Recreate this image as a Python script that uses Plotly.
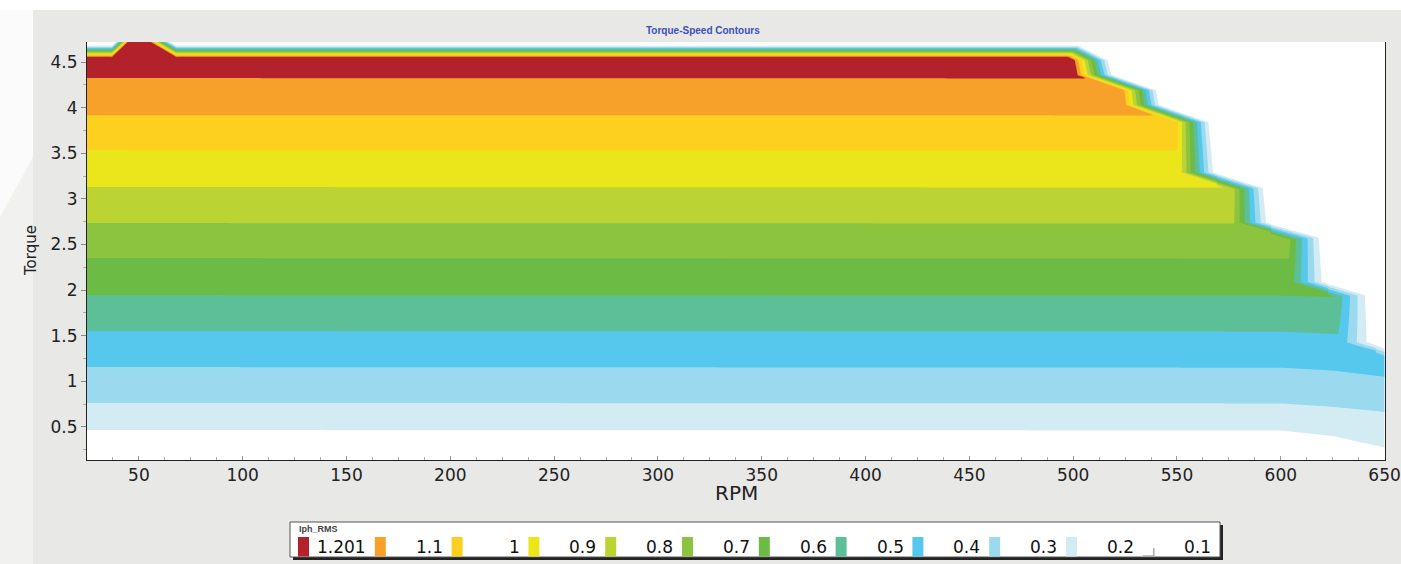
import numpy as np
import plotly.graph_objects as go

# ---------------- data ----------------
# Iph_RMS contour levels and the torque at which each level sits (read at several RPM positions)
iph_levels = [0.0, 0.1, 0.2, 0.3, 0.4, 0.5, 0.6, 0.7, 0.8, 0.9, 1.0, 1.1, 1.201]
band_rpm_nodes = [25, 600, 625, 650]
torque_at_level_rpm25 = [0.10, 0.467, 0.763, 1.157, 1.552, 1.946, 2.352, 2.735, 3.130, 3.535, 3.918, 4.325, 4.72]
torque_at_level_rpm600 = [0.10, 0.462, 0.758, 1.150, 1.545, 1.940, 2.345, 2.730, 3.125, 3.530, 3.915, 4.320, 4.72]
torque_at_level_rpm625 = [0.05, 0.400, 0.720, 1.118, 1.520, 1.925, 2.330, 2.725, 3.122, 3.527, 3.912, 4.320, 4.72]
torque_at_level_rpm650 = [0.00, 0.275, 0.665, 1.050, 1.480, 1.900, 2.320, 2.720, 3.120, 3.525, 3.910, 4.320, 4.72]

# outer torque-speed envelope (where Iph falls to zero)
env_rpm = [25, 37, 48.5, 49.5, 68, 503, 518, 520, 541.6, 543, 567, 569.5, 593.6, 595.5, 621, 623, 644, 646, 650, 675, 700]
env_torque = [4.69, 4.69, 4.93, 4.93, 4.69, 4.69, 4.52, 4.36, 4.19, 4.03, 3.84, 3.29, 3.12, 2.74, 2.58, 2.09, 1.95, 1.43, 1.40, 1.25, 0.0]

x_ticks = [50, 100, 150, 200, 250, 300, 350, 400, 450, 500, 550, 600, 650]
y_ticks = [0.5, 1, 1.5, 2, 2.5, 3, 3.5, 4, 4.5]
legend_labels = ["1.201", "1.1", "1", "0.9", "0.8", "0.7", "0.6", "0.5", "0.4", "0.3", "0.2", "0.1"]

# band colours, lowest band (<0.1) to highest (>1.1)
band_colors = ["#ffffff", "#d3ecf4", "#9bd9ee", "#56c8ee", "#5cbf98", "#6cbb45",
               "#8cc43f", "#bcd433", "#ebe61c", "#fdd01f", "#f7a12a", "#b3222a"]

# ---------------- build the contour table ----------------
x = np.concatenate([np.arange(25, 100, 1.0), np.arange(100, 490, 5.0), np.arange(490, 650.01, 0.5)])
y = np.round(np.arange(0.10, 4.80, 0.01), 3)

LT = np.array([torque_at_level_rpm25, torque_at_level_rpm600, torque_at_level_rpm625, torque_at_level_rpm650])
V = np.zeros((len(y), len(x)))
for i, xv in enumerate(x):
    lt = np.array([np.interp(xv, band_rpm_nodes, LT[:, k]) for k in range(LT.shape[1])])
    V[:, i] = np.interp(y, lt, iph_levels)

er = np.array(env_rpm, dtype=float)
et = np.array(env_torque, dtype=float)
stair = er >= 503
sr, st = er[stair][::-1], et[stair][::-1]
rpm_edge = np.interp(y, st, sr)
T_edge = np.interp(x, er, et)
WX, WT = 18.0, 0.14
dx = rpm_edge[:, None] - x[None, :]
dT = T_edge[None, :] - y[:, None]
f = np.clip(np.minimum(dx / WX, dT / WT), 0, 1)
Z = np.round(V * f, 4).astype(np.float32)

n = len(band_colors)
nl = n - 1
cscale = []
for i, c in enumerate(band_colors):
    lo = 0.0 if i == 0 else (i - 0.5) / nl
    hi = 1.0 if i == n - 1 else (i + 0.5) / nl
    cscale.append([lo, c])
    cscale.append([hi, c])

fig = go.Figure()
fig.add_trace(go.Contour(
    x=x, y=y, z=Z,
    autocontour=False,
    contours=dict(start=0.1, end=1.1, size=0.1, coloring="fill", showlines=False),
    colorscale=cscale, showscale=False, line=dict(width=0),
    hoverinfo="skip",
))

# ---------------- layout ----------------
L, R, T, B = 87, 16, 42, 104
W, H = 1401, 564
PW, PH = W - L - R, H - T - B


def px(xp):
    return (xp - L) / PW


def py(yp):
    return (H - B - yp) / PH


shapes = []
annotations = []

# page decoration
shapes.append(dict(type="rect", xref="paper", yref="paper", x0=px(0), x1=px(W), y0=py(0), y1=py(10),
                   fillcolor="#ffffff", line=dict(width=0), layer="below"))
shapes.append(dict(type="rect", xref="paper", yref="paper", x0=px(0), x1=px(33), y0=py(10), y1=py(H),
                   fillcolor="#f1f1f0", line=dict(width=0), layer="below"))
shapes.append(dict(type="path", xref="paper", yref="paper",
                   path=f"M {px(0)} {py(10)} L {px(33)} {py(10)} L {px(33)} {py(157)} L {px(0)} {py(217)} Z",
                   fillcolor="#fbfbfb", line=dict(width=0), layer="below"))

# title
annotations.append(dict(text="<b>Torque-Speed Contours</b>", xref="paper", yref="paper",
                        x=px(703), y=py(31), xanchor="center", yanchor="middle", showarrow=False,
                        font=dict(family="Liberation Sans, Arial", size=10, color="#3d4fb8")))
# axis titles
annotations.append(dict(text="RPM", xref="paper", yref="paper", x=px(736), y=py(493),
                        xanchor="center", yanchor="middle", showarrow=False,
                        font=dict(family="DejaVu Sans", size=20, color="#222222")))
annotations.append(dict(text="Torque", xref="paper", yref="paper", x=px(31), y=py(251), textangle=-90,
                        xanchor="center", yanchor="middle", showarrow=False,
                        font=dict(family="DejaVu Sans", size=15, color="#222222")))

# legend box
shapes.append(dict(type="rect", xref="paper", yref="paper", x0=px(293), x1=px(1223), y0=py(525), y1=py(560),
                   fillcolor="#222222", line=dict(width=0)))
shapes.append(dict(type="rect", xref="paper", yref="paper", x0=px(290), x1=px(1220), y0=py(522), y1=py(557),
                   fillcolor="#ffffff", line=dict(color="#555555", width=1)))
annotations.append(dict(text="<b>Iph_RMS</b>", xref="paper", yref="paper", x=px(297), y=py(529),
                        xanchor="left", yanchor="middle", showarrow=False,
                        font=dict(family="Liberation Sans, Arial", size=9, color="#444444")))
legend_colors = band_colors[::-1]
for i, (lab, col) in enumerate(zip(legend_labels, legend_colors)):
    x0 = 298 + 76.8 * i
    if col.lower() == "#ffffff":
        shapes.append(dict(type="line", xref="paper", yref="paper", x0=px(x0), x1=px(x0 + 11),
                           y0=py(556), y1=py(556), line=dict(color="#aaaaaa", width=1.5)))
        shapes.append(dict(type="line", xref="paper", yref="paper", x0=px(x0 + 11), x1=px(x0 + 11),
                           y0=py(548), y1=py(556), line=dict(color="#aaaaaa", width=1.5)))
    else:
        shapes.append(dict(type="rect", xref="paper", yref="paper", x0=px(x0), x1=px(x0 + 11),
                           y0=py(537), y1=py(556.5), fillcolor=col, line=dict(width=0)))
    annotations.append(dict(text=lab, xref="paper", yref="paper", x=px(x0 + 70), y=py(547),
                            xanchor="right", yanchor="middle", showarrow=False,
                            font=dict(family="DejaVu Sans", size=17, color="#111111")))

fig.update_layout(
    width=W, height=H,
    margin=dict(l=L, r=R, t=T, b=B, pad=0, autoexpand=False),
    paper_bgcolor="#e8e8e6",
    plot_bgcolor="#ffffff",
    showlegend=False,
    shapes=shapes,
    annotations=annotations,
    xaxis=dict(range=[25, 650.2], tickvals=x_ticks, ticktext=[str(v) for v in x_ticks],
               ticks="inside", ticklen=4, tickcolor="#999999",
               minor=dict(dtick=12.5, tick0=0, ticks="inside", ticklen=3, tickcolor="#aaaaaa"),
               showline=True, linecolor="#222222", linewidth=1, mirror=False,
               showgrid=False, zeroline=False, ticklabeloverflow="allow", automargin=False,
               tickfont=dict(family="DejaVu Sans", size=17, color="#222222")),
    yaxis=dict(range=[0.138, 4.72], tickvals=y_ticks, ticktext=[str(v) for v in y_ticks],
               ticks="outside", ticklen=5, tickcolor="#888888",
               minor=dict(dtick=0.25, tick0=0, ticks="outside", ticklen=3, tickcolor="#aaaaaa"),
               showline=True, linecolor="#222222", linewidth=1, mirror=True,
               showgrid=False, zeroline=False, automargin=False,
               tickfont=dict(family="DejaVu Sans", size=17, color="#222222")),
)

fig.write_html(
    "out.html",
    config={"displayModeBar": False},
    post_script="document.body.style.margin='0px';document.body.style.overflow='hidden';",
)
